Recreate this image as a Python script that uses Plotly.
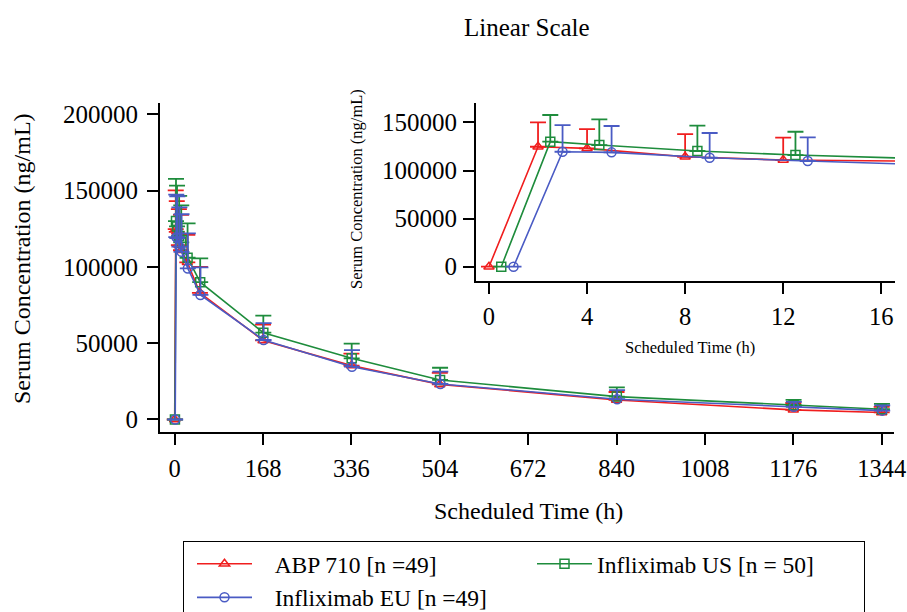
import plotly.graph_objects as go

# ---------------- data ----------------
time_h = [0, 2, 4, 8, 12, 24, 48, 168, 336, 504, 840, 1176, 1344]

abp_mean = [0, 124700, 123000, 114300, 110900, 103000, 83000, 51800, 35300, 23000, 12800, 6300, 4600]
abp_sd = [0, 25400, 20100, 23600, 23200, 18000, 17000, 10300, 7800, 7500, 5200, 4500, 3700]

us_mean = [0, 130000, 126500, 120300, 116100, 106000, 90000, 56900, 40100, 25900, 15000, 9500, 6700]
us_sd = [0, 27700, 26700, 26300, 24200, 22500, 15600, 11100, 9600, 8000, 6100, 3300, 3500]

eu_mean = [0, 119500, 118900, 113300, 109900, 99000, 81600, 52100, 34600, 23300, 13300, 8300, 5800]
eu_sd = [0, 27800, 27400, 25700, 24600, 23000, 18100, 11100, 10900, 8000, 6000, 3200, 3500]

# horizontal jitter (h) used to separate groups
abp_shift = 0.0
us_shift = 0.5
eu_shift = 1.0

main_xticks = [0, 168, 336, 504, 672, 840, 1008, 1176, 1344]
main_yticks = [0, 50000, 100000, 150000, 200000]
inset_xticks = [0, 4, 8, 12, 16]
inset_yticks = [0, 50000, 100000, 150000]

NB = "\u00a0\u00a0\u00a0"
series = [
    (NB + "ABP 710 [n =49]", abp_mean, abp_sd, abp_shift, "#F01E1E", "triangle-up-open"),
    ("Infliximab US [n = 50]", us_mean, us_sd, us_shift, "#1E8C3C", "square-open"),
    (NB + "Infliximab EU [n =49]", eu_mean, eu_sd, eu_shift, "#4A5BC4", "circle-open"),
]

FONT = "Liberation Serif"
W, H = 907, 612

fig = go.Figure()

for name, mean, sd, shift, color, symbol in series:
    xs = [t + shift for t in time_h]
    for axes, show in (("main", True), ("inset", False)):
        fig.add_trace(go.Scatter(
            x=xs, y=mean, name=name, mode="lines+markers",
            showlegend=show, legendgroup=name,
            line=dict(color=color, width=1.6),
            marker=dict(symbol=symbol, size=9, color=color,
                        line=dict(color=color, width=1.5)),
            error_y=dict(type="data", array=sd, symmetric=False,
                         arrayminus=[0] * len(sd), color=color,
                         thickness=1.8, width=8),
            xaxis="x" if axes == "main" else "x2",
            yaxis="y" if axes == "main" else "y2",
            cliponaxis=True,
        ))

def px_x(p):
    return p / W

def px_y(p):
    return 1 - p / H

axis_common = dict(showline=True, linecolor="black", linewidth=2,
                   ticks="outside", ticklen=11, tickwidth=2, tickcolor="black",
                   showgrid=False, zeroline=False, automargin=False,
                   mirror=False, ticklabeloverflow="allow")

fig.update_layout(
    width=W, height=H,
    margin=dict(l=0, r=0, t=0, b=0, pad=0, autoexpand=False),
    paper_bgcolor="white", plot_bgcolor="white",
    template="none",
    font=dict(family=FONT, color="black", size=22),
    xaxis=dict(domain=[px_x(160), px_x(894)], range=[-27.9, 1367.4],
               tickvals=main_xticks, ticktext=[str(v) for v in main_xticks],
               tickfont=dict(size=24.5), ticklabelstandoff=2, **axis_common),
    yaxis=dict(domain=[px_y(432.3), px_y(102.7)], range=[-8400, 207600],
               tickvals=main_yticks, ticktext=[str(v) for v in main_yticks],
               tickfont=dict(size=25), ticklabelstandoff=4, **axis_common),
    xaxis2=dict(domain=[px_x(476), px_x(895)], range=[-0.53, 16.56],
                anchor="y2",
                tickvals=inset_xticks, ticktext=[str(v) for v in inset_xticks],
                tickfont=dict(size=24.5), ticklabelstandoff=2, **axis_common),
    yaxis2=dict(domain=[px_y(280.7), px_y(103)], range=[-14550, 170200],
                anchor="x2",
                tickvals=inset_yticks, ticktext=[str(v) for v in inset_yticks],
                tickfont=dict(size=25), ticklabelstandoff=1, **axis_common),
    showlegend=True,
    legend=dict(orientation="h", x=px_x(183), y=px_y(541),
                xanchor="left", yanchor="top",
                entrywidth=262, entrywidthmode="pixels",
                itemwidth=55, indentation=8,
                bordercolor="black", borderwidth=1, bgcolor="white",
                font=dict(family=FONT, size=23.5, color="black"),
                traceorder="normal"),
)

# white background behind inset
fig.add_shape(type="rect", xref="paper", yref="paper",
              x0=px_x(476), x1=px_x(895), y0=px_y(280.7), y1=px_y(103),
              fillcolor="white", line=dict(width=0), layer="below")

annotations = [
    dict(text="Linear Scale", x=px_x(527), y=px_y(28), size=25, angle=0),
    dict(text="Scheduled Time (h)", x=px_x(528), y=px_y(511), size=24, angle=0),
    dict(text="Serum Concentration (ng/mL)", x=px_x(22), y=px_y(259), size=24, angle=-90),
    dict(text="Scheduled Time (h)", x=px_x(690), y=px_y(347), size=16.5, angle=0),
    dict(text="Serum Concentration (ng/mL)", x=px_x(356), y=px_y(189), size=16.5, angle=-90),
]
for a in annotations:
    fig.add_annotation(text=a["text"], x=a["x"], y=a["y"], xref="paper", yref="paper",
                       showarrow=False, textangle=a["angle"],
                       xanchor="center", yanchor="middle",
                       font=dict(family=FONT, size=a["size"], color="black"))

post = (
    "var gd=document.getElementById('{plot_id}');"
    "gd.style.position='fixed';gd.style.top='0px';gd.style.left='0px';"
    "document.documentElement.style.margin='0';document.documentElement.style.padding='0';"
    "document.documentElement.style.overflow='hidden';"
    "document.body.style.margin='0';document.body.style.padding='0';"
    "document.body.style.overflow='hidden';"
)
fig.write_html("out.html", config={"displayModeBar": False, "responsive": False},
               post_script=post)
